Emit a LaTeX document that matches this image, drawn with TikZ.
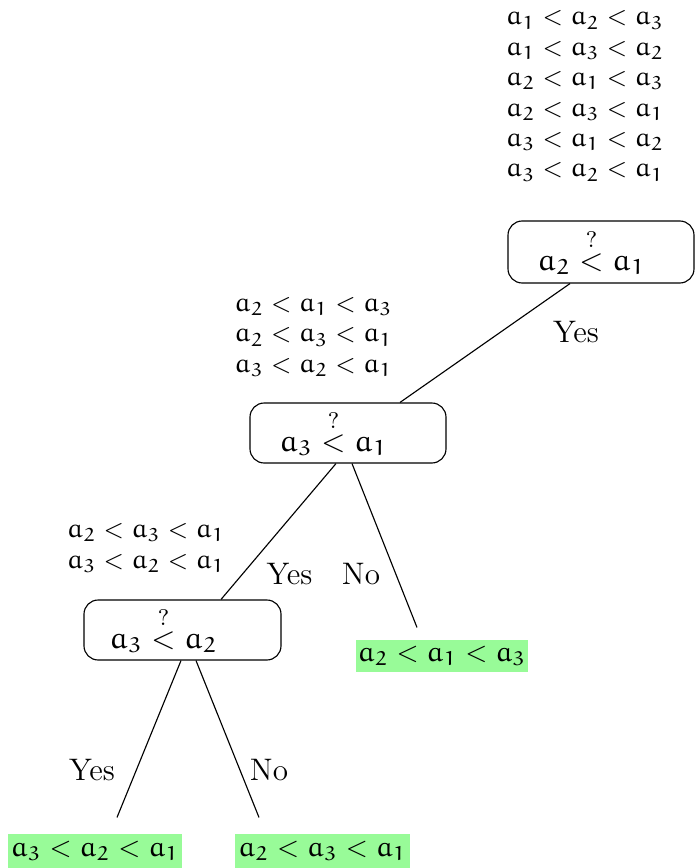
\documentclass[tikz,border=0pt]{standalone}
\usetikzlibrary{calc}
\DeclareFontFamily{U}{myeur}{\skewchar\font'177}
\DeclareFontShape{U}{myeur}{m}{n}{<-6>eurm5 <6-8>eurm7 <8->eurm10}{}
\DeclareSymbolFont{myeul}{U}{myeur}{m}{n}
\DeclareMathSymbol{a}{\mathalpha}{myeul}{`a}
\DeclareMathSymbol{1}{\mathalpha}{myeul}{`1}
\DeclareMathSymbol{2}{\mathalpha}{myeul}{`2}
\DeclareMathSymbol{3}{\mathalpha}{myeul}{`3}
\definecolor{leafgreen}{RGB}{152,251,152}
\newcommand{\pxu}{0.3534}
\begin{document}
\begin{tikzpicture}[x=0.3534pt,y=-0.3534pt,
  lst/.style={align=left,inner sep=0pt,font=\fontsize{9.45}{10.75}\selectfont},
  decision/.style={draw,rounded corners=5pt,inner sep=0pt,
    minimum width={#1*\pxu pt},minimum height={60*\pxu pt}},
  qtext/.style={inner sep=0pt,font=\fontsize{10.8}{13}\selectfont,xshift={#1*\pxu pt}},
  leaf/.style={fill=leafgreen,inner sep=0pt,font=\fontsize{10}{12}\selectfont,
    minimum width={#1*\pxu pt},minimum height={33*\pxu pt}},
  lbl/.style={inner sep=0pt,font=\fontsize{11}{13}\selectfont},
  edge/.style={line width=0.4pt}]
\useasboundingbox (0,0) rectangle (695,868);

% candidate lists
\node[lst] (l0) at (585,96) {$a_1 < a_2 < a_3$\\$a_1 < a_3 < a_2$\\$a_2 < a_1 < a_3$\\$a_2 < a_3 < a_1$\\$a_3 < a_1 < a_2$\\$a_3 < a_2 < a_1$};
\node[lst] (l1) at (313.5,337) {$a_2 < a_1 < a_3$\\$a_2 < a_3 < a_1$\\$a_3 < a_2 < a_1$};
\node[lst] (l2) at (146,548) {$a_2 < a_3 < a_1$\\$a_3 < a_2 < a_1$};

% decision nodes
\node[decision=186,minimum height={62*\pxu pt},
  label={[qtext=-9.5]center:{$a_2 \stackrel{?}{<} a_1$}}] (root) at (601,252) {};
\node[decision=196,
  label={[qtext=-14.5]center:{$a_3 \stackrel{?}{<} a_1$}}] (n2) at (348,433) {};
\node[decision=197,
  label={[qtext=-19]center:{$a_3 \stackrel{?}{<} a_2$}}] (n3) at (182.5,630) {};

% leaves
\node[leaf=172,minimum height={32*\pxu pt}] (f1) at (442,656) {$a_2 < a_1 < a_3$};
\node[leaf=174,minimum height={34*\pxu pt}] (f2) at (95,851) {$a_3 < a_2 < a_1$};
\node[leaf=175,minimum height={34*\pxu pt}] (f3) at (322.5,851) {$a_2 < a_3 < a_1$};

% edges
\draw[edge] ($(root.south)+(-31,0)$) -- ($(n2.north)+(52,0)$);
\draw[edge] ($(n2.south)+(-12,0)$) -- ($(n3.north)+(38.5,0)$);
\draw[edge] ($(n2.south)+(4,0)$) -- ($(f1.north)+(-25,-12)$);
\draw[edge] ($(n3.south)+(-1.5,0)$) -- ($(f2.north)+(22,-16)$);
\draw[edge] ($(n3.south)+(13.5,0)$) -- ($(f3.north)+(-63.5,-16)$);

% edge labels
\node[lbl] (y0) at (576,332) {Yes};
\node[lbl] (y1) at (289.5,574) {Yes};
\node[lbl] (n1) at (361,574) {No};
\node[lbl] (y2) at (92,770) {Yes};
\node[lbl] (n4) at (269,770) {No};
\end{tikzpicture}
\end{document}
